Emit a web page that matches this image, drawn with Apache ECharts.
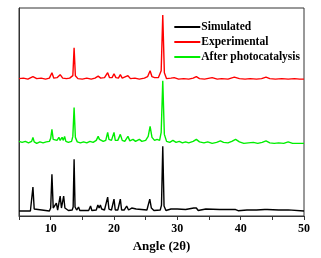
<!DOCTYPE html>
<html><head><meta charset="utf-8">
<script src="https://cdn.jsdelivr.net/npm/echarts@6/dist/echarts.min.js"></script>
<style>html,body{margin:0;padding:0;background:#fff}#c{width:321px;height:258px}</style>
</head><body><div id="c"></div>
<script>
const seriesNames = ['Simulated', 'Experimental', 'After photocatalysis'];
const offsets = [5, 138, 74];
const xTicks = [10, 20, 30, 40, 50];
const simulated = [
[5,0],[6.8,0],[7.0,2],[7.2,24],[7.4,2],[7.6,0],[9.8,0],[10.0,3],[10.2,37],[10.4,3],[10.7,1],[10.9,8],[11.1,1],[11.3,3],[11.5,15],[11.7,3],[11.85,4],[12.05,15],[12.25,3],[12.5,3],[12.8,0.5],[13.4,1],[13.55,4],[13.7,52],[13.85,4],[14.1,1],[14.4,4],[14.6,0.5],[16.0,0.5],[16.3,5],[16.5,0.5],[17.2,1],[17.45,6],[17.65,3],[17.85,6],[18.05,2],[18.3,4],[18.5,1],[18.8,2],[19.0,14],[19.2,2],[19.6,1],[20.0,12],[20.2,1],[20.6,1],[21.0,12],[21.2,1],[21.6,1],[22.0,5],[22.3,1],[22.8,3],[23.1,1],[23.5,2],[23.8,0.5],[25.2,1],[25.4,3],[25.65,12],[25.9,3],[26.3,0.5],[27.3,1],[27.5,6],[27.7,65],[27.9,5],[28.2,0.5],[29.0,2],[29.3,0.5],[30.0,2],[30.3,0.5],[31.3,1.5],[31.6,0.5],[32.6,3],[32.8,2],[33.0,3],[33.3,0.5],[34.5,2],[34.8,0.5],[36.7,1.5],[37.0,0.3],[37.5,1.5],[37.8,0.3],[38.8,1.5],[39.2,1.5],[39.6,0.3],[41,1],[41.3,0.3],[42.5,1],[42.8,0.3],[43.8,1.5],[44.2,1.5],[44.5,0.3],[46,1],[46.3,0.3],[47.5,1.2],[47.8,0.3],[50,0]
];
const experimental = [
[5,0],[5.7,0.5],[6.4,-0.5],[7.2,2],[7.8,0],[8.5,0.5],[9.2,-0.5],[9.8,0.5],[10.2,6],[10.5,0.5],[11.0,1],[11.5,4],[11.9,0.5],[12.5,0],[13.0,0.5],[13.5,3],[13.7,31],[13.9,3],[14.3,0],[15.0,-0.5],[15.7,0.5],[16.4,-0.5],[17.0,0.5],[17.5,2.5],[17.9,0.5],[18.5,1],[19.0,6],[19.3,1],[19.7,1],[20.0,5],[20.3,1],[20.7,0.5],[21.0,4],[21.3,0.5],[22.2,3],[22.6,0],[23.3,0.5],[24.0,-0.5],[24.8,0.5],[25.3,2],[25.7,8],[26.0,2],[26.4,1],[26.7,3],[27.0,1],[27.45,8],[27.7,64],[27.95,6],[28.3,0],[29.0,0.5],[29.5,1],[30.2,-0.5],[31.0,0],[31.8,-0.5],[32.5,0.5],[33.0,2],[33.5,0],[34.3,-0.5],[35.5,1],[36.3,-0.5],[37.0,0],[38.0,-0.5],[39.0,1.5],[39.8,0],[40.7,-0.5],[41.5,0],[42.5,-0.5],[43.3,0],[44.0,1.5],[44.6,0],[45.5,-0.5],[46.5,0],[47.5,-0.5],[48.5,0],[49.3,-0.5],[50,-0.5]
];
const photocatalysis = [
[5,1],[5.5,0],[6,1],[6.5,-0.5],[7.0,1],[7.2,5],[7.4,0.5],[7.8,-1],[8.3,0.5],[8.8,-0.5],[9.3,0.5],[9.8,1],[10.0,4],[10.2,13],[10.4,3],[10.7,1],[11.0,2],[11.3,5],[11.5,2],[11.8,5],[12.0,2],[12.2,6],[12.4,1],[12.8,0],[13.3,1],[13.5,6],[13.7,35],[13.9,5],[14.2,0.5],[14.7,-0.5],[15.2,0.5],[15.7,-0.5],[16.2,1],[16.7,0],[17.2,2],[17.5,6],[17.7,3],[18.0,4],[18.3,1],[18.7,2],[19.0,10],[19.2,3],[19.6,2],[20.0,10],[20.2,2],[20.6,2],[21.0,8],[21.3,2],[21.7,1],[22.2,6],[22.5,1.5],[23.0,3],[23.4,1],[24.0,3],[24.4,1],[25.0,2],[25.4,6],[25.7,16],[26.0,5],[26.4,2],[26.8,3],[27.2,2],[27.45,10],[27.7,62],[27.95,8],[28.3,1],[28.8,0],[29.3,2],[29.8,0],[30.3,1],[30.8,-0.5],[31.3,0.5],[31.8,-0.5],[32.5,1],[33.0,3],[33.5,0.5],[34.2,-0.5],[34.8,0.5],[35.5,-1],[36.2,0],[36.8,1.5],[37.3,0],[38.0,-0.5],[38.6,1],[39.2,3],[39.8,0.5],[40.5,-1],[41.2,-0.5],[42.0,0],[42.7,-1],[43.4,0],[44.0,1.5],[44.6,-0.5],[45.3,-1],[46.0,-0.5],[46.8,-1],[47.5,0.5],[48.2,-1],[49,-1],[50,-1]
];
const allData = [simulated, experimental, photocatalysis];
const colors = ['#000000', '#ff0000', '#00ee00'];
const font = '"Liberation Serif","Times New Roman",serif';

const chart = echarts.init(document.getElementById('c'), null, {renderer: 'canvas'});
chart.setOption({
  animation: false,
  grid: {left: 19, right: 17, top: 8, bottom: 41, show: true, borderColor: '#333', borderWidth: 1},
  legend: {
    data: seriesNames, orient: 'vertical', right: 16, top: 16,
    icon: 'rect', itemWidth: 26, itemHeight: 2, itemGap: 3,
    textStyle: {fontFamily: font, fontWeight: 'bold', fontSize: 11.5, color: '#000', lineHeight: 11, padding: [0,0,0,-4]}
  },
  xAxis: {
    type: 'value', min: 5, max: 50, interval: 5,
    name: 'Angle (2θ)', nameLocation: 'middle', nameGap: 24,
    nameTextStyle: {fontFamily: font, fontWeight: 'bold', fontSize: 13, color: '#000'},
    axisLine: {show: true, onZero: false, lineStyle: {color: '#333', width: 1}},
    axisTick: {show: true, inside: false, length: 4, lineStyle: {color: '#333'}},
    axisLabel: {margin: 7, fontFamily: font, fontWeight: 'bold', fontSize: 12, color: '#000',
      formatter: v => xTicks.includes(v) ? String(v) : ''},
    splitLine: {show: false}
  },
  yAxis: {
    type: 'value', min: 0, max: 209,
    axisLine: {show: true, lineStyle: {color: '#333'}},
    axisTick: {show: false}, axisLabel: {show: false}, splitLine: {show: false}
  },
  series: seriesNames.map((n, i) => ({
    name: n, type: 'line', showSymbol: false, symbol: 'none',
    color: colors[i],
    lineStyle: {width: 1.4, color: colors[i]},
    data: allData[i].map(p => [p[0], p[1] + offsets[i]])
  }))
});
</script></body></html>
